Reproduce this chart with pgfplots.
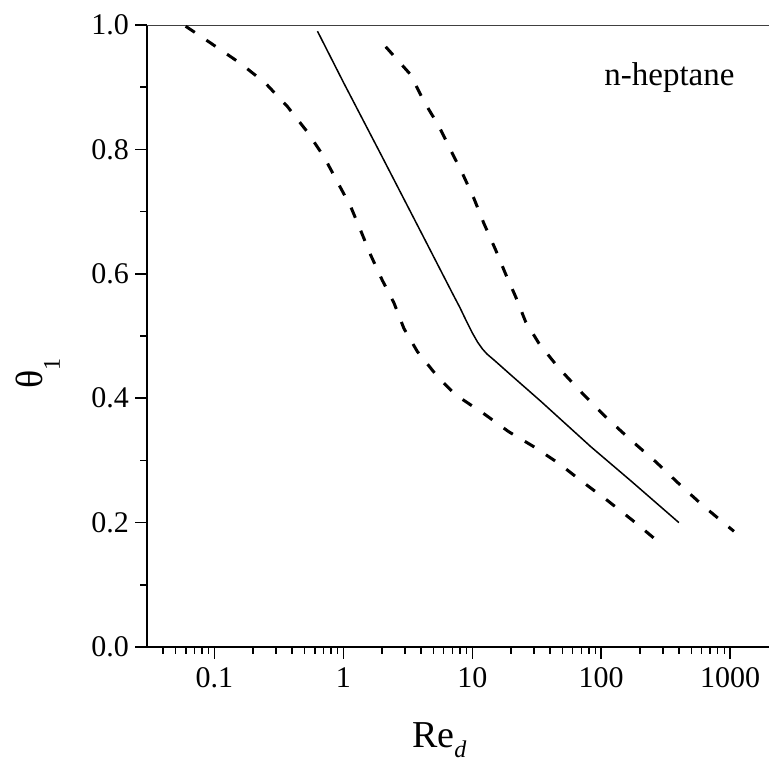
\documentclass[border=0pt]{standalone}
\usepackage{pgfplots}
\pgfplotsset{compat=1.18}
\usepackage{fontspec}
\setmainfont{Liberation Serif}
\pgfplotstableread{
x y
0.0598 0.998
0.0935 0.971
0.16 0.938
0.25 0.906
0.368 0.869
0.526 0.828
0.708 0.788
0.898 0.748
1.14 0.708
1.36 0.670
1.63 0.630
2.0 0.590
2.47 0.553
2.95 0.512
3.75 0.475
5.36 0.435
7.43 0.405
8.4 0.398
12.7 0.373
19.2 0.346
30 0.322
47 0.295
71 0.266
111 0.236
174 0.204
297 0.164
}\lowerdash
\pgfplotstableread{
x y
0.63 0.99
1 0.908
2 0.788
4 0.667
7 0.569
8 0.546
9 0.524
10 0.505
11 0.490
12 0.479
13 0.471
15 0.460
17 0.450
20 0.437
34 0.395
83 0.322
170 0.267
400 0.200
}\solidline
\pgfplotstableread{
x y
2.13 0.965
3.33 0.920
4.22 0.877
5.52 0.837
6.79 0.799
8.36 0.762
10.3 0.721
12.3 0.681
15.2 0.638
18.1 0.600
21.7 0.563
25.9 0.523
32.9 0.488
47 0.448
71.3 0.408
108 0.370
169 0.333
264 0.298
412 0.260
625 0.226
1069 0.186
}\upperdash
\begin{document}
\begin{tikzpicture}
\useasboundingbox (0,0) rectangle (769pt,777pt);
\begin{axis}[
  at={(147pt,130pt)}, anchor=south west,
  width=622pt, height=622pt, scale only axis,
  xmode=log, xmin=0.03, xmax=2000, ymin=0, ymax=1,
  axis x line*=bottom, axis y line*=left,
  axis line style={line width=1.5pt, -},
  tick align=outside,
  xtick={0.1,1,10,100,1000}, xticklabels={0.1,1,10,100,1000},
  minor xtick={0.04,0.05,0.06,0.07,0.08,0.09,0.2,0.3,0.4,0.5,0.6,0.7,0.8,0.9,2,3,4,5,6,7,8,9,20,30,40,50,60,70,80,90,200,300,400,500,600,700,800,900},
  ytick={0,0.2,0.4,0.6,0.8,1.0}, yticklabels={0.0,0.2,0.4,0.6,0.8,1.0},
  minor ytick={0.1,0.3,0.5,0.7,0.9},
  major tick length=12pt, minor tick length=7pt,
  every tick/.style={line width=1.5pt, black},
  ticklabel style={font=\fontsize{30}{30}\selectfont},
  yticklabel style={inner sep=6pt},
  xticklabel style={inner sep=8pt},
  xlabel={Re\raisebox{-0.28em}{\fontsize{24}{24}\selectfont\itshape d}},
  ylabel={θ\raisebox{-0.45em}{\fontsize{24}{24}\selectfont 1}},
  label style={font=\fontsize{38}{38}\selectfont},
  xlabel style={at={(axis description cs:0.47,-0.15)}, anchor=center},
  ylabel style={at={(axis description cs:-0.175,0.44)}, anchor=center},
  clip=false,
]
\draw[line width=0.8pt, black!75] (rel axis cs:0,1) -- (rel axis cs:1,1);
\addplot[black, line width=3pt, dash pattern=on 11pt off 14pt] table[x=x,y=y] {\lowerdash};
\addplot[black, line width=1.5pt] table[x=x,y=y] {\solidline};
\addplot[black, line width=3pt, dash pattern=on 11pt off 14pt] table[x=x,y=y] {\upperdash};
\node[font=\fontsize{33}{33}\selectfont, anchor=base] at (axis description cs:0.84,0.902) {n-heptane};
\end{axis}
\end{tikzpicture}
\end{document}
